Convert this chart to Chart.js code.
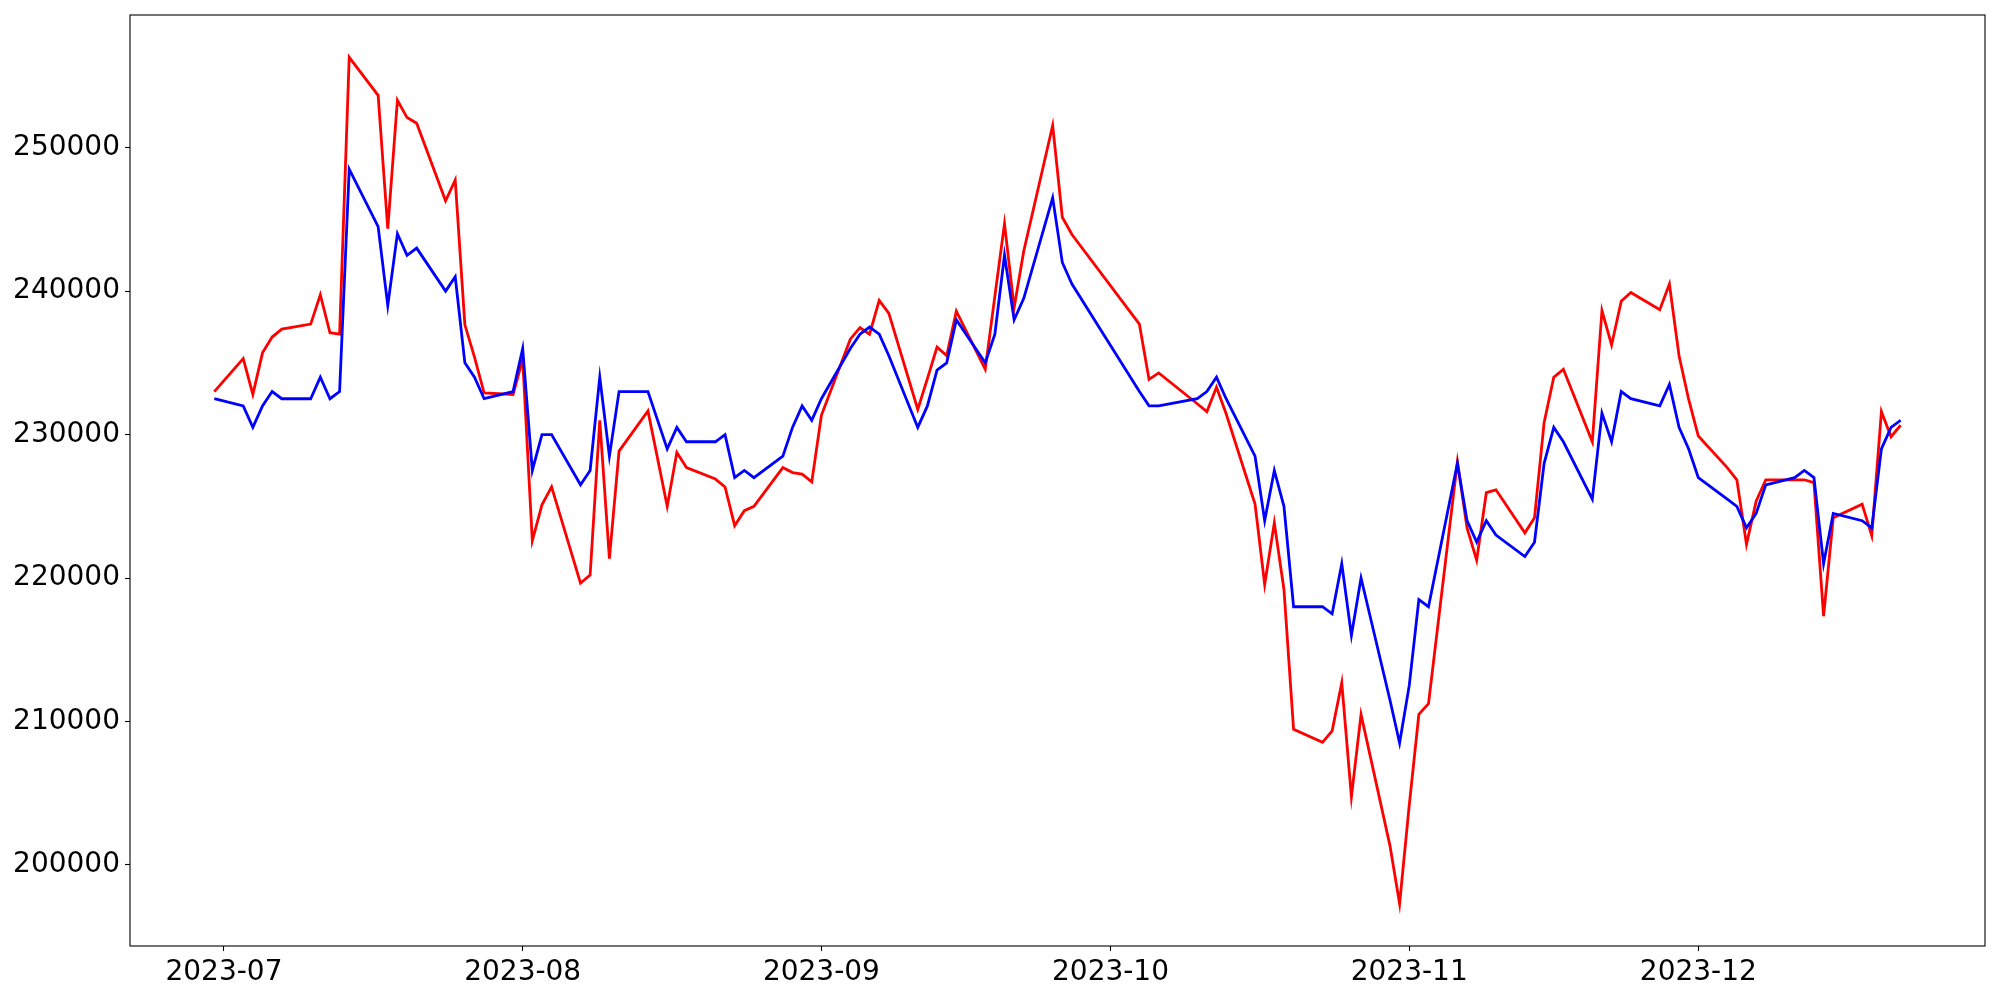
<!DOCTYPE html>
<html>
<head>
<meta charset="utf-8">
<script src="https://cdn.jsdelivr.net/npm/chart.js@4.4.1/dist/chart.umd.min.js"></script>
<style>
  body { margin: 0; background: #fff; }
</style>
</head>
<body>
<canvas id="myChart" width="2000" height="1000"></canvas>
<script>
// trading days
var dates = [
  '2023-06-30',
  '2023-07-03','2023-07-04','2023-07-05','2023-07-06','2023-07-07',
  '2023-07-10','2023-07-11','2023-07-12','2023-07-13','2023-07-14',
  '2023-07-17','2023-07-18','2023-07-19','2023-07-20','2023-07-21',
  '2023-07-24','2023-07-25','2023-07-26','2023-07-27','2023-07-28',
  '2023-07-31','2023-08-01','2023-08-02','2023-08-03','2023-08-04',
  '2023-08-07','2023-08-08','2023-08-09','2023-08-10','2023-08-11',
  '2023-08-14','2023-08-16','2023-08-17','2023-08-18',
  '2023-08-21','2023-08-22','2023-08-23','2023-08-24','2023-08-25',
  '2023-08-28','2023-08-29','2023-08-30','2023-08-31','2023-09-01',
  '2023-09-04','2023-09-05','2023-09-06','2023-09-07','2023-09-08',
  '2023-09-11','2023-09-12','2023-09-13','2023-09-14','2023-09-15',
  '2023-09-18','2023-09-19','2023-09-20','2023-09-21','2023-09-22',
  '2023-09-25','2023-09-26','2023-09-27',
  '2023-10-04','2023-10-05','2023-10-06',
  '2023-10-10','2023-10-11','2023-10-12','2023-10-13',
  '2023-10-16','2023-10-17','2023-10-18','2023-10-19','2023-10-20',
  '2023-10-23','2023-10-24','2023-10-25','2023-10-26','2023-10-27',
  '2023-10-30','2023-10-31','2023-11-01','2023-11-02','2023-11-03',
  '2023-11-06','2023-11-07','2023-11-08','2023-11-09','2023-11-10',
  '2023-11-13','2023-11-14','2023-11-15','2023-11-16','2023-11-17',
  '2023-11-20','2023-11-21','2023-11-22','2023-11-23','2023-11-24',
  '2023-11-27','2023-11-28','2023-11-29','2023-11-30','2023-12-01',
  '2023-12-04','2023-12-05','2023-12-06','2023-12-07','2023-12-08',
  '2023-12-11','2023-12-12','2023-12-13','2023-12-14','2023-12-15',
  '2023-12-18','2023-12-19','2023-12-20','2023-12-21','2023-12-22'
];

// red line
var redValues = [
  233000,
  235300, 232800, 235700, 236800, 237350,
  237700, 239750, 237100, 237000, 256300,
  253650, 244350, 253300, 252100, 251700,
  246300, 247750, 237650, 235400, 232900,
  232800, 235250, 222600, 225100, 226350,
  219650, 220200, 231000, 221350, 228850,
  231650, 225000, 228750, 227700,
  226900, 226350, 223650, 224700, 225000,
  227700, 227350, 227250, 226700, 231350,
  236650, 237450, 237000, 239350, 238450,
  231750, 233900, 236100, 235500, 238600,
  234550, 239650, 244700, 238850, 242800,
  251550, 245150, 243950,
  237700, 233850, 234300,
  232150, 231600, 233300, 231450,
  225150, 219550, 223850, 219200, 209450,
  208550, 209350, 212700, 204750, 210500,
  201350, 197300, 204150, 210500, 211250,
  228100, 223500, 221250, 225950, 226150,
  223150, 224200, 230850, 234000, 234550,
  229500, 238650, 236250, 239300, 239900,
  238700, 240500, 235500, 232450, 229900,
  227700, 226850, 222350, 225350, 226850,
  226850, 226850, 226650, 217350, 224200,
  225150, 222950, 231600, 229850, 230650
];

// blue line
var blueValues = [
  232500,
  232000, 230500, 232000, 233000, 232500,
  232500, 234000, 232500, 233000, 248500,
  244500, 239000, 244000, 242500, 243000,
  240000, 241000, 235000, 234000, 232500,
  233000, 236000, 227500, 230000, 230000,
  226500, 227500, 234000, 228500, 233000,
  233000, 229000, 230500, 229500,
  229500, 230000, 227000, 227500, 227000,
  228500, 230500, 232000, 231000, 232500,
  236000, 237000, 237500, 237000, 235500,
  230500, 232000, 234500, 235000, 238000,
  235000, 237000, 242500, 238000, 239500,
  246500, 242000, 240500,
  233000, 232000, 232000,
  232500, 233000, 234000, 232500,
  228500, 224000, 227500, 225000, 218000,
  218000, 217500, 221000, 216000, 220000,
  211500, 208500, 212500, 218500, 218000,
  228000, 224000, 222500, 224000, 223000,
  221500, 222500, 228000, 230500, 229500,
  225500, 231500, 229500, 233000, 232500,
  232000, 233500, 230500, 229000, 227000,
  225500, 225000, 223500, 224500, 226500,
  227000, 227500, 227000, 221000, 224500,
  224000, 223500, 229000, 230500, 231000
];

var monthTicks = ['2023-07', '2023-08', '2023-09', '2023-10', '2023-11', '2023-12'];
var yTicks = [200000, 210000, 220000, 230000, 240000, 250000];

function dayNum(s) {
  var p = s.split('-');
  return Date.UTC(+p[0], +p[1] - 1, p[2] ? +p[2] : 1) / 86400000;
}
function dayLabel(d) {
  var dt = new Date(Math.round(d) * 86400000);
  var m = dt.getUTCMonth() + 1;
  return dt.getUTCFullYear() + '-' + (m < 10 ? '0' + m : m);
}

var redPoints = dates.map(function (d, i) { return { x: dayNum(d), y: redValues[i] }; });
var bluePoints = dates.map(function (d, i) { return { x: dayNum(d), y: blueValues[i] }; });

// matplotlib style 5% margins
var xFirst = dayNum(dates[0]), xLast = dayNum(dates[dates.length - 1]);
var xPad = (xLast - xFirst) * 0.05;
var allVals = redValues.concat(blueValues);
var yLo = Math.min.apply(null, allVals), yHi = Math.max.apply(null, allVals);
var yPad = (yHi - yLo) * 0.05;

var frame = {
  id: 'frame',
  afterDraw: function (chart) {
    var a = chart.chartArea, c = chart.ctx;
    c.save();
    c.strokeStyle = '#000';
    c.lineWidth = 1.1;
    c.strokeRect(a.left, a.top, a.right - a.left, a.bottom - a.top);
    c.restore();
  }
};

var tickFont = { family: 'DejaVu Sans', size: 28 };

var ctx = document.getElementById('myChart').getContext('2d');
var chart = new Chart(ctx, {
  type: 'line',
  data: {
    datasets: [{
      label: 'red',
      data: redPoints,
      borderColor: '#ff0000',
      borderWidth: 2.8,
      pointRadius: 0,
      tension: 0,
      order: 1
    }, {
      label: 'blue',
      data: bluePoints,
      borderColor: '#0000ff',
      borderWidth: 2.8,
      pointRadius: 0,
      tension: 0,
      order: 0
    }]
  },
  options: {
    responsive: false,
    animation: false,
    devicePixelRatio: 1,
    layout: { padding: { top: 15, right: 15, left: 0, bottom: 0 } },
    plugins: { legend: { display: false }, tooltip: { enabled: false } },
    scales: {
      x: {
        type: 'linear',
        min: xFirst - xPad,
        max: xLast + xPad,
        afterBuildTicks: function (axis) {
          axis.ticks = monthTicks.map(function (m) { return { value: dayNum(m) }; });
        },
        afterFit: function (axis) { axis.height = 54; },
        border: { display: false },
        grid: { drawOnChartArea: false, drawTicks: true, tickLength: 5, tickColor: '#000', tickWidth: 1.1 },
        ticks: {
          autoSkip: false,
          maxRotation: 0,
          padding: 5,
          color: '#000',
          font: tickFont,
          callback: function (v) { return dayLabel(v); }
        }
      },
      y: {
        min: yLo - yPad,
        max: yHi + yPad,
        afterBuildTicks: function (axis) {
          axis.ticks = yTicks.map(function (v) { return { value: v }; });
        },
        afterFit: function (axis) {
          axis.width = 130;
          axis.paddingTop = 0;
          axis.paddingBottom = 0;
        },
        border: { display: false },
        grid: { drawOnChartArea: false, drawTicks: true, tickLength: 5, tickColor: '#000', tickWidth: 1.1 },
        ticks: {
          padding: 5,
          color: '#000',
          font: tickFont,
          callback: function (v) { return String(v); }
        }
      }
    }
  },
  plugins: [frame]
});
</script>
</body>
</html>
